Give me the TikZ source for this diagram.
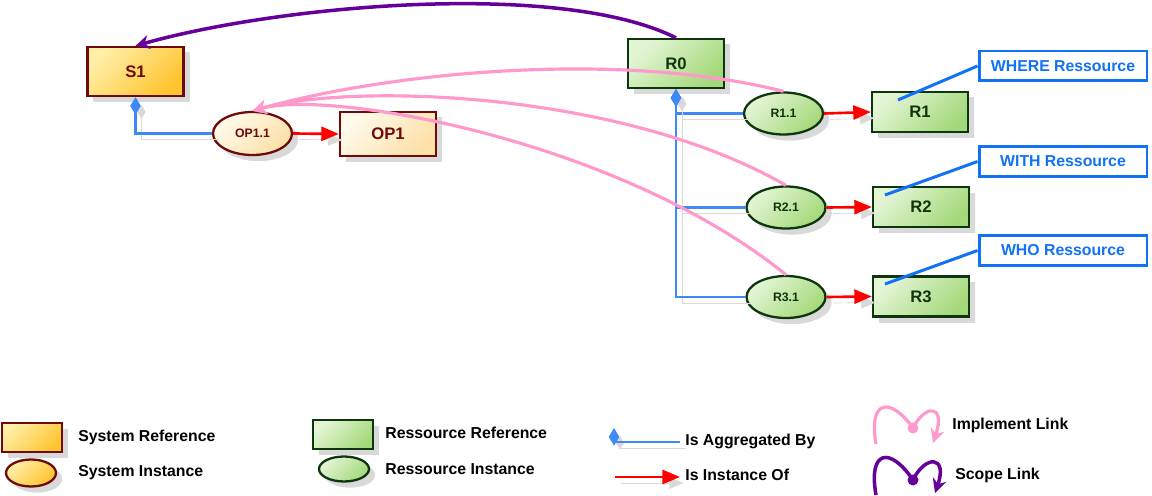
\documentclass[tikz,border=0pt]{standalone}
\usepackage{fontspec}
\setmainfont{Liberation Sans}
\usetikzlibrary{positioning, arrows.meta, shapes.geometric, shadows}

\definecolor{sysA}{HTML}{FFEEA6}
\definecolor{sysB}{HTML}{FFC42E}
\definecolor{sysline}{HTML}{6E0A0A}
\definecolor{opA}{HTML}{FFFAEC}
\definecolor{opB}{HTML}{FCE0A6}
\definecolor{resA}{HTML}{E4F5D6}
\definecolor{resB}{HTML}{A4D97A}
\definecolor{resline}{HTML}{0E360E}
\definecolor{aggblue}{HTML}{3D8AF7}
\definecolor{noteblue}{HTML}{1172F5}
\definecolor{implpink}{HTML}{FF99CC}
\definecolor{scopepurple}{HTML}{660099}
\definecolor{shadowgray}{HTML}{D9D9D9}

\tikzset{
  boxshadow/.style={drop shadow={shadow xshift=0.12cm, shadow yshift=-0.12cm, top color=shadowgray, bottom color=shadowgray, fill=shadowgray, opacity=1, draw=none}},
  sysref/.style={rectangle, draw=sysline, line width=1.3pt, top color=sysA, bottom color=sysB, shading angle=45, boxshadow,
    minimum width=1.92cm, minimum height=0.98cm, inner sep=0pt, text=sysline, font=\bfseries\fontsize{9.5}{11}\selectfont},
  opref/.style={sysref, top color=opA, bottom color=opB, shading angle=45, minimum height=0.88cm},
  sysinst/.style={ellipse, draw=sysline, line width=1.3pt, top color=opA, bottom color=opB, shading angle=45, boxshadow,
    minimum width=1.58cm, minimum height=0.86cm, inner sep=0pt, text=sysline, font=\bfseries\fontsize{7}{8}\selectfont},
  resref/.style={rectangle, draw=resline, line width=1.3pt, top color=resA, bottom color=resB, shading angle=45, boxshadow,
    minimum width=1.92cm, minimum height=0.98cm, inner sep=0pt, text=resline, font=\bfseries\fontsize{9.5}{11}\selectfont},
  resinst/.style={ellipse, draw=resline, line width=1.3pt, top color=resA, bottom color=resB, shading angle=45, boxshadow,
    minimum width=1.58cm, minimum height=0.84cm, inner sep=0pt, text=resline, font=\bfseries\fontsize{7}{8}\selectfont},
  notebox/.style={rectangle, draw=noteblue, line width=1.7pt, fill=white, minimum width=3.36cm, minimum height=0.6cm,
    inner sep=0pt, text=noteblue, font=\bfseries\fontsize{9}{11}\selectfont},
  legtext/.style={anchor=west, inner sep=0pt, font=\bfseries\fontsize{9}{11}\selectfont},
  aggr/.style={draw=aggblue, line width=1.5pt, {Diamond[length=10pt,width=6pt]}-,
    preaction={draw=shadowgray, transform canvas={shift={(0.12cm,-0.12cm)}}}},
  inst/.style={draw=red, line width=1.5pt, -{Triangle[length=10pt,width=8pt]},
    preaction={draw=shadowgray, transform canvas={shift={(0.12cm,-0.12cm)}}}},
  impl/.style={draw=implpink, line width=1.8pt, -{Stealth[length=8pt,width=8pt]}},
  scope/.style={draw=scopepurple, line width=2pt, -{Stealth[length=8pt,width=8pt]}},
  note/.style={draw=noteblue, line width=1.7pt}
}

\begin{document}
\begin{tikzpicture}[x=0.02cm, y=-0.02cm]
\useasboundingbox (0,0) rectangle (1152,496);

\node[sysref](S1) at (135.5,71.5) {S1};
\node[sysinst](OP11) at (252.5,133.5) {OP1.1};
\node[opref](OP1) at (388,134) {OP1};

\node[resref](R0) at (676,63.5) {R0};
\node[resinst](R11) at (783.5,113.5) {R1.1};
\node[resref, minimum height=0.8cm](R1) at (920,112) {R1};
\node[resinst](R21) at (786,207.5) {R2.1};
\node[resref, minimum height=0.8cm](R2) at (921,207) {R2};
\node[resinst](R31) at (786,297) {R3.1};
\node[resref, minimum height=0.8cm](R3) at (921,296.5) {R3};

\node[notebox](where) at (1063,66) {WHERE Ressource};
\node[notebox](with) at (1063,161.5) {WITH Ressource};
\node[notebox](who) at (1063,250.5) {WHO Ressource};

\coordinate(pR1) at (898,100);
\coordinate(pR2) at (885,195);
\coordinate(pR3) at (885,284);

\draw[aggr] (S1.south) |- (OP11.west);
\draw[inst] (OP11.east) -- (OP1.west);

\draw[aggr] (R0.south) |- (R11.west);
\draw[aggr] (R0.south) |- (R21.west);
\draw[aggr] (R0.south) |- (R31.west);
\draw[inst] (R11.east) -- (R1.west);
\draw[inst] (R21.east) -- (R2.west);
\draw[inst] (R31.east) -- (R3.west);

\draw[note] (pR1) -- (where.west);
\draw[note] (pR2) -- (with.west);
\draw[note] (pR3) -- (who.west);

\draw[scope] (R0.north) .. controls (560,-20) and (280,5) .. (S1.north);
\draw[impl] (R11.north) .. controls (620,50) and (390,72) .. (OP11.north);
\draw[impl] (R21.north) .. controls (620,90) and (350,83) .. (OP11.north);
\draw[impl] (R31.north) .. controls (620,140) and (330,89) .. (OP11.north);

% legend
\node[sysref, minimum width=1.2cm, minimum height=0.58cm](lsysref) at (32,437.5) {};
\node[sysinst, top color=sysA, bottom color=sysB, shading angle=45, minimum width=1cm, minimum height=0.54cm](lsysinst) at (31,473) {};
\node[resref, minimum width=1.2cm, minimum height=0.58cm](lresref) at (343,434.5) {};
\node[resinst, minimum width=1cm, minimum height=0.5cm](lresinst) at (344,469) {};
\node[legtext](tsysref) at (78,437) {System Reference};
\node[legtext](tsysinst) at (78,473) {System Instance};
\node[legtext](tresref) at (385,433) {Ressource Reference};
\node[legtext](tresinst) at (385,469) {Ressource Instance};

\coordinate(laggA) at (614,428);
\coordinate(laggB) at (680,442);
\draw[aggr] (laggA) |- (laggB);
\node[legtext](tagg) at (685,441) {Is Aggregated By};
\coordinate(linstA) at (615,477);
\coordinate(linstB) at (680,477);
\draw[inst] (linstA) -- (linstB);
\node[legtext](tinst) at (685,475) {Is Instance Of};

\node[circle, fill=implpink, minimum size=0.22cm, inner sep=0pt](limpdot) at (913,428) {};
\coordinate(limpA) at (876,444);
\coordinate(limpB) at (933,443);
\draw[impl, -] (limpA) .. controls (868,400) and (890,396) .. (limpdot.center);
\draw[impl] (limpdot.center) .. controls (925,404) and (946,404) .. (limpB);
\node[legtext](timp) at (952,425) {Implement Link};

\node[circle, fill=scopepurple, minimum size=0.22cm, inner sep=0pt](lscodot) at (913,480) {};
\coordinate(lscoA) at (876,495);
\coordinate(lscoB) at (935,493);
\draw[scope, -] (lscoA) .. controls (868,450) and (890,446) .. (lscodot.center);
\draw[scope] (lscodot.center) .. controls (925,455) and (948,455) .. (lscoB);
\node[legtext](tsco) at (955,475) {Scope Link};
\end{tikzpicture}
\end{document}
